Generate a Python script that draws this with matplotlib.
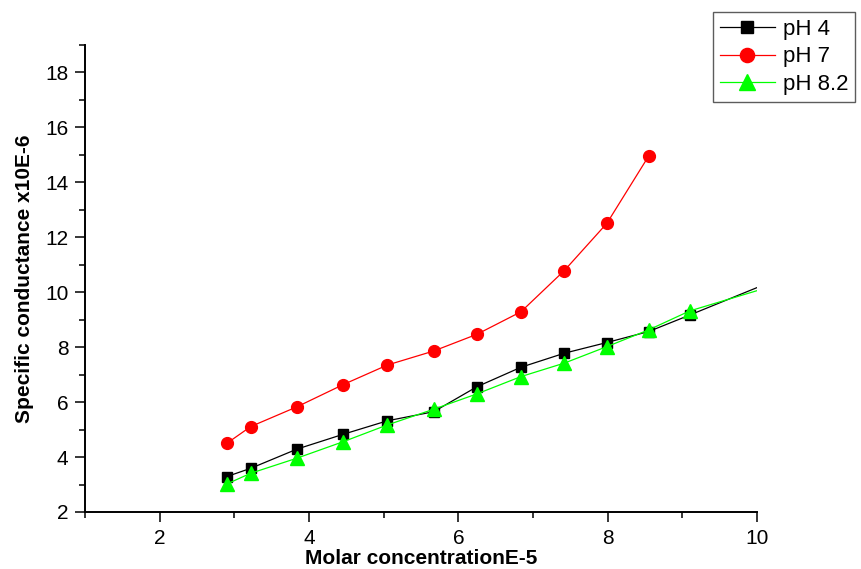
import matplotlib.pyplot as plt
from matplotlib.ticker import MultipleLocator

plt.rcParams['font.family'] = ['Liberation Sans', 'DejaVu Sans']

# molar concentration (E-5)
conc = [2.90, 3.22, 3.84, 4.46, 5.05, 5.67, 6.25, 6.84, 7.42, 7.99, 8.55]
conc_long = conc + [9.10, 10.20]   # last point lies just past the axis edge

# specific conductance (x10E-6)
ph4 = [3.29, 3.59, 4.29, 4.83, 5.32, 5.65, 6.56, 7.27, 7.78, 8.17, 8.57, 9.17, 10.39]
ph7 = [4.50, 5.11, 5.83, 6.64, 7.35, 7.86, 8.47, 9.29, 10.79, 12.51, 14.96]
ph82 = [3.02, 3.41, 3.96, 4.56, 5.17, 5.74, 6.30, 6.93, 7.42, 8.02, 8.63, 9.32, 10.22]

fig = plt.figure(figsize=(8.61, 5.69), dpi=100)
ax = fig.add_axes([0.0987, 0.1002, 0.7805, 0.8207])

ax.plot(conc_long, ph4, color="black", lw=0.9, marker="s", markersize=7,
        label="pH 4")
ax.plot(conc, ph7, color="red", lw=0.9, marker="o", markersize=8.5,
        label="pH 7")
ax.plot(conc_long, ph82, color="#00ff00", lw=0.9, marker="^", markersize=9.5,
        label="pH 8.2")

ax.set_xlim(1, 10)
ax.set_ylim(2, 19)
ax.xaxis.set_major_locator(MultipleLocator(2))
ax.xaxis.set_minor_locator(MultipleLocator(1))
ax.yaxis.set_major_locator(MultipleLocator(2))
ax.yaxis.set_minor_locator(MultipleLocator(1))

# Only left and bottom axes
for side in ["top", "right"]:
    ax.spines[side].set_visible(False)
for side in ["left", "bottom"]:
    ax.spines[side].set_linewidth(1.4)

ax.tick_params(which="major", direction="out", length=7, width=1.1,
               labelsize=15, pad=5, colors="black")
ax.tick_params(which="minor", direction="out", length=4, width=1.1)

ax.set_xlabel("Molar concentrationE-5", fontsize=15, fontweight="bold",
              labelpad=1)
ax.set_ylabel("Specific conductance x10E-6", fontsize=15, fontweight="bold",
              labelpad=8)

leg = ax.legend(loc="upper left", bbox_to_anchor=(713 / 861, 1 - 12 / 569),
                bbox_transform=fig.transFigure, fontsize=16, frameon=True,
                fancybox=False, edgecolor="#333333", handlelength=2.5,
                handletextpad=0.35, borderpad=0.3, labelspacing=0.3,
                borderaxespad=0, markerscale=1.2)
leg.get_frame().set_linewidth(1.0)

fig.savefig("out.png", dpi=100)
